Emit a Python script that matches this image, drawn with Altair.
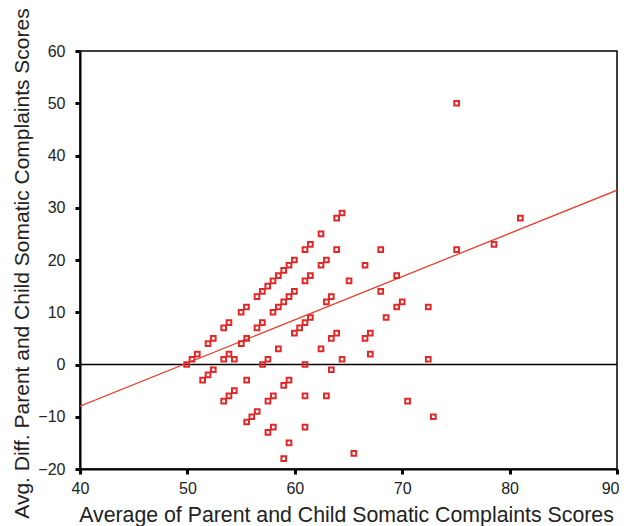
import altair as alt
import pandas as pd

# Average of parent and child scores (x) and difference (y)
avg_scores = [
    49.93, 50.43, 50.92, 51.92, 52.41, 53.38, 53.87, 55.0, 55.5, 56.48, 56.98, 57.48, 57.97, 58.47,
    58.97, 59.46, 59.96, 60.95, 61.45, 62.44, 63.9, 64.4,
    53.38, 53.87, 54.37, 55.02, 55.52, 56.48, 56.98, 57.97, 58.47, 58.97, 59.46, 59.96, 60.95,
    61.45, 62.44, 62.94, 63.9,
    57.0, 57.5, 58.47, 59.96, 60.45, 60.95, 61.45, 62.44, 62.94, 63.4, 63.4, 63.9, 64.4, 63.4, 60.95,
    65.05, 66.54, 67.03, 66.54, 67.03, 68.0, 68.0, 68.5, 69.49, 69.49, 70.0, 72.43, 72.43, 75.07,
    75.07, 78.55, 81.0,
    52.41, 51.92, 51.42, 55.52, 59.46, 58.97, 54.37, 53.87, 53.38, 58.0, 57.5, 60.95, 62.94, 56.5,
    56.0, 55.52, 58.0, 57.5, 60.95, 59.46, 58.97, 65.5, 70.5, 72.9,
]
diff_scores = [
    0, 1, 2, 4, 5, 7, 8, 10, 11, 13, 14, 15, 16, 17,
    18, 19, 20, 22, 23, 25, 28, 29,
    1, 2, 1, 4, 5, 7, 8, 10, 11, 12, 13, 14, 16,
    17, 19, 20, 22,
    0, 1, 3, 6, 7, 8, 9, 3, 12, 13, 5, 6, 1, -1, 0,
    16, 19, 6, 5, 2, 22, 14, 9, 17, 11, 12, 11, 1, 22,
    50, 23, 28,
    -1, -2, -3, -3, -3, -4, -5, -6, -7, -6, -7, -6, -6, -9,
    -10, -11, -12, -13, -12, -15, -18, -17, -7, -10,
]

# Fitted regression line end points
fit_x = [40, 90]
fit_y = [-7.98, 33.36]

zero_y = [0]

pts = pd.DataFrame({"avg": avg_scores, "diff": diff_scores})
fit = pd.DataFrame({"avg": fit_x, "diff": fit_y})
zero = pd.DataFrame({"y": zero_y})

RED = "#e02828"
FONT = "Liberation Sans"

x_scale = alt.Scale(domain=[40, 90], nice=False, zero=False)
y_scale = alt.Scale(domain=[-20, 60], nice=False, zero=False)

x_axis = alt.Axis(
    title="Average of Parent and Child Somatic Complaints Scores",
    values=[40, 50, 60, 70, 80, 90],
    grid=False, labelFlush=False, titleFontSize=21.3,
    labelAlign={"condition": {"test": "datum.value === 90", "value": "right"}, "value": "center"},
    labelOffset={"condition": {"test": "datum.value === 90", "value": 2}, "value": 0},
    titleX=266, titleY=52, titleBaseline="alphabetic", titleAlign="center",
)
y_axis = alt.Axis(
    title="Avg. Diff. Parent and Child Somatic Complaints Scores",
    values=[-20, -10, 0, 10, 20, 30, 40, 50, 60],
    grid=False, labelFlush=False, titleFontSize=21,
    titleX=-52, titleY=212, titleBaseline="alphabetic", titleAngle=270,
)

points = alt.Chart(pts).mark_point(
    shape="square", filled=False, size=22, strokeWidth=2, color=RED, opacity=1
).encode(
    x=alt.X("avg:Q", scale=x_scale, axis=x_axis),
    y=alt.Y("diff:Q", scale=y_scale, axis=y_axis),
)

line = alt.Chart(fit).mark_line(color="#e8412f", strokeWidth=1.3, clip=True).encode(
    x=alt.X("avg:Q", scale=x_scale),
    y=alt.Y("diff:Q", scale=y_scale),
)

rule = alt.Chart(zero).mark_rule(color="black", strokeWidth=1.5).encode(
    y=alt.Y("y:Q", scale=y_scale)
)

chart = alt.layer(rule, line, points).properties(
    width=537, height=418,
    autosize=alt.AutoSizeParams(type="none"),
    padding={"left": 72, "top": 43, "right": 2, "bottom": 58},
).configure_view(
    stroke="black", strokeWidth=1.5
).configure_axis(
    labelFont=FONT, titleFont=FONT, labelFontSize=16,
    titleFontWeight="normal", labelColor="#222", titleColor="#222",
    domainColor="black", domainWidth=2,
    tickColor="black", tickSize=5, tickWidth=3,
).configure_axisX(
    labelPadding=6,
).configure_axisY(
    labelPadding=10,
)

chart.save("out.html", embed_options={"renderer": "svg", "actions": False})
